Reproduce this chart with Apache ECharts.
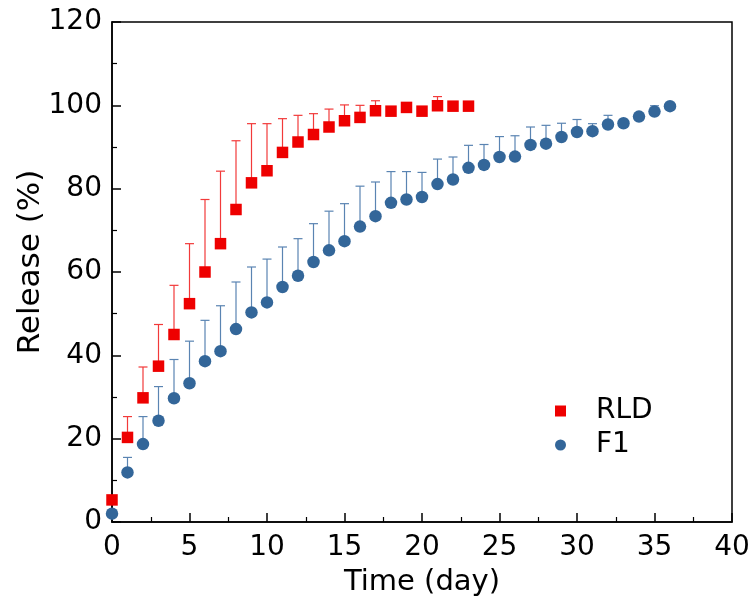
<!DOCTYPE html>
<html>
<head>
<meta charset="utf-8">
<script src="https://cdn.jsdelivr.net/npm/echarts@6/dist/echarts.min.js"></script>
<style>html,body{margin:0;padding:0;background:#fff}#c{width:754px;height:605px}</style>
</head>
<body>
<div id="c"></div>
<script>
var rldDays = [0,1,2,3,4,5,6,7,8,9,10,11,12,13,14,15,16,17,18,19,20,21,22,23];
var rldMean = [5.3,20.3,29.8,37.4,45.0,52.4,60.0,66.8,75.0,81.4,84.3,88.7,91.2,93.0,94.8,96.3,97.1,98.7,98.6,99.5,98.6,99.9,99.8,99.8];
var rldSD   = [0,5.0,7.4,10.0,11.8,14.4,17.4,17.4,16.5,14.2,11.3,8.1,6.4,5.0,4.3,3.8,2.9,2.4,0,0,0,2.2,0,0];

var f1Days = [0,1,2,3,4,5,6,7,8,9,10,11,12,13,14,15,16,17,18,19,20,21,22,23,24,25,26,27,28,29,30,31,32,33,34,35,36];
var f1Mean = [2.0,11.9,18.7,24.3,29.7,33.3,38.6,41.0,46.3,50.3,52.7,56.4,59.1,62.4,65.2,67.4,70.9,73.4,76.6,77.4,78.0,81.1,82.2,85.0,85.7,87.6,87.7,90.5,90.8,92.4,93.6,93.8,95.4,95.7,97.3,98.5,99.8];
var f1SD   = [0,3.6,6.6,8.2,9.3,10.1,9.8,10.9,11.3,10.9,10.4,9.6,8.9,9.2,9.4,9.0,9.7,8.2,7.5,6.7,5.9,6.0,5.4,5.4,4.9,4.9,5.0,4.3,4.4,3.3,3.0,1.8,2.2,0,0,1.4,0];

var seriesNames = ['RLD','F1'];
var xTitle = 'Time (day)';
var yTitle = 'Release (%)';

function zip3(a,b,c){ return a.map(function(v,i){ return [v,b[i],c[i]]; }); }
function zip2(a,b){ return a.map(function(v,i){ return [v,b[i]]; }); }

function errRenderer(color){
  return function(params, api){
    var x = api.value(0), m = api.value(1), s = api.value(2);
    if (!s) return null;
    var p0 = api.coord([x, m]);
    var p1 = api.coord([x, m + s]);
    var hw = 4.5;
    return {type:'group', children:[
      {type:'line', shape:{x1:p0[0],y1:p0[1],x2:p1[0],y2:p1[1]}, style:{stroke:color,lineWidth:1.2}},
      {type:'line', shape:{x1:p1[0]-hw,y1:p1[1],x2:p1[0]+hw,y2:p1[1]}, style:{stroke:color,lineWidth:1.2}}
    ]};
  };
}

var FONT = 'DejaVu Sans';
var chart = echarts.init(document.getElementById('c'), null, {renderer:'canvas'});
chart.setOption({
  animation:false,
  backgroundColor:'#fff',
  grid:{left:112, right:22, top:22, bottom:83, show:true, borderColor:'#000', borderWidth:1.5, backgroundColor:'transparent'},
  legend:{
    orient:'vertical', left:550, top:392, itemGap:6, itemWidth:11, itemHeight:11,
    data:[{name:seriesNames[0], icon:'rect'},{name:seriesNames[1], icon:'circle'}],
    textStyle:{fontFamily:FONT, fontSize:28, color:'#000', padding:[0,0,0,25]}
  },
  xAxis:{
    type:'value', min:0, max:40, interval:5,
    name:xTitle, nameLocation:'middle', nameGap:46, nameMoveOverlap:false,
    nameTextStyle:{fontFamily:FONT, fontSize:29, color:'#000'},
    axisLine:{show:true, lineStyle:{color:'#000', width:1.5}},
    axisTick:{show:true, inside:true, length:9, lineStyle:{color:'#000', width:1.5}},
    minorTick:{show:true, splitNumber:2, length:5, lineStyle:{color:'#000', width:1.2}},
    axisLabel:{fontFamily:FONT, fontSize:28, color:'#000', margin:12},
    splitLine:{show:false}
  },
  yAxis:{
    type:'value', min:0, max:120, interval:20,
    name:yTitle, nameLocation:'middle', nameGap:66, nameMoveOverlap:false,
    nameTextStyle:{fontFamily:FONT, fontSize:31, color:'#000', padding:[0,0,0,20]},
    axisLine:{show:true, lineStyle:{color:'#000', width:1.5}},
    axisTick:{show:true, inside:true, length:9, lineStyle:{color:'#000', width:1.5}},
    minorTick:{show:true, splitNumber:2, length:5, lineStyle:{color:'#000', width:1.2}},
    axisLabel:{fontFamily:FONT, fontSize:28, color:'#000', margin:10},
    splitLine:{show:false}
  },
  series:[
    {name:'RLD err', type:'custom', data:zip3(rldDays,rldMean,rldSD), encode:{x:0,y:1}, renderItem:errRenderer('#f23a3a'), z:1, silent:true},
    {name:'F1 err', type:'custom', data:zip3(f1Days,f1Mean,f1SD), encode:{x:0,y:1}, renderItem:errRenderer('#5a84b2'), z:1, silent:true},
    {name:seriesNames[1], type:'scatter', data:zip2(f1Days,f1Mean), symbol:'circle', symbolSize:12.5, itemStyle:{color:'#336699', opacity:1}, z:3},
    {name:seriesNames[0], type:'scatter', data:zip2(rldDays,rldMean), symbol:'rect', symbolSize:11.5, itemStyle:{color:'#ee0000', opacity:1}, z:4}
  ]
});
</script>
</body>
</html>
